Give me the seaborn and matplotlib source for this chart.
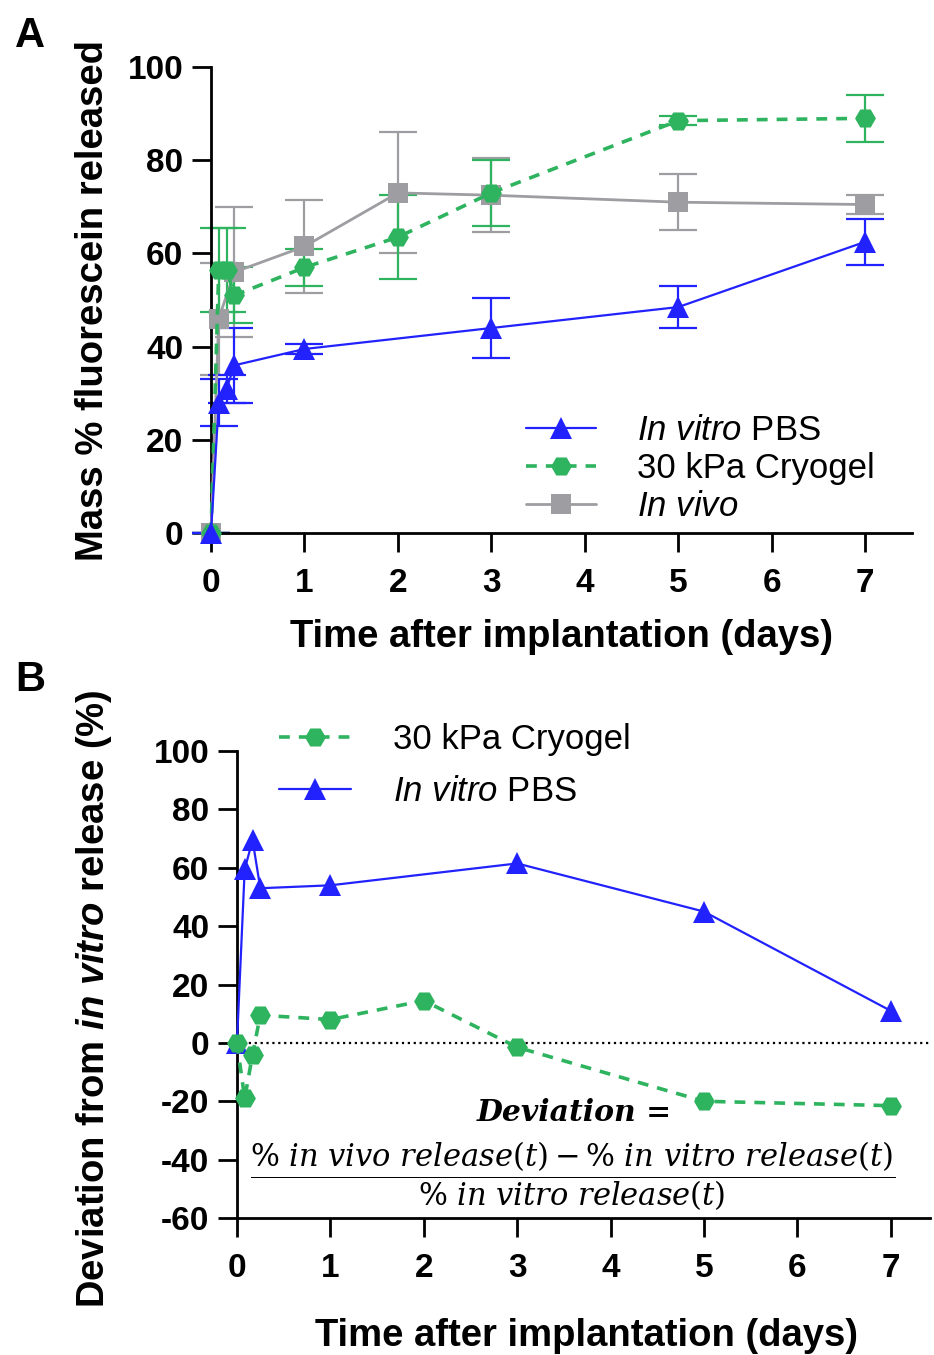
import numpy as np
import pandas as pd
import seaborn as sns
import matplotlib.pyplot as plt

# panel A: mass % fluorescein released (mean, sd)
pbs_t = [0, 0.083, 0.167, 0.25, 1, 3, 5, 7]
pbs_mean = [0, 28, 31, 36, 39.5, 44, 48.5, 62.5]
pbs_sd = [0, 5, 3, 8, 1, 6.5, 4.5, 5]

cryo_t = [0, 0.083, 0.167, 0.25, 1, 2, 3, 5, 7]
cryo_mean = [0, 56.5, 56.5, 51, 57, 63.5, 73, 88.5, 89]
cryo_sd = [0, 9, 9, 6, 4, 9, 7, 1, 5]

vivo_t = [0, 0.083, 0.25, 1, 2, 3, 5, 7]
vivo_mean = [0, 46, 56, 61.5, 73, 72.5, 71, 70.5]
vivo_sd = [0, 12, 14, 10, 13, 8, 6, 2]

# panel B: deviation from in vivo release (%)
dev_cryo_t = [0, 0.083, 0.167, 0.25, 1, 2, 3, 5, 7]
dev_cryo = [0, -19, -4, 9.5, 8, 14.5, -1.5, -20, -21.5]
dev_pbs_t = [0, 0.083, 0.167, 0.25, 1, 3, 5, 7]
dev_pbs = [0, 59.5, 69.5, 53, 54, 61.5, 45, 11]

xticks = [0, 1, 2, 3, 4, 5, 6, 7]
yticks_a = [0, 20, 40, 60, 80, 100]
yticks_b = [-60, -40, -20, 0, 20, 40, 60, 80, 100]

lbl_pbs = r"$\mathit{In\ vitro}$ PBS"
lbl_cryo = "30 kPa Cryogel"
lbl_vivo = r"$\mathit{In\ vivo}$"

BLUE = "#2222FF"
GREEN = "#2EB35F"
GRAY = "#9D9DA2"

sns.set_style("ticks")
plt.rcParams["font.family"] = ["Liberation Sans", "DejaVu Sans"]
plt.rcParams["mathtext.fontset"] = "custom"
plt.rcParams["mathtext.rm"] = "Liberation Sans"
plt.rcParams["mathtext.it"] = "Liberation Sans:italic"
plt.rcParams["mathtext.bf"] = "Liberation Sans:bold"
plt.rcParams["mathtext.bfit"] = "Liberation Sans:italic:bold"
plt.rcParams["axes.unicode_minus"] = False
plt.rcParams["text.color"] = "black"
plt.rcParams["axes.labelcolor"] = "black"
plt.rcParams["xtick.color"] = "black"
plt.rcParams["ytick.color"] = "black"
plt.rcParams["axes.edgecolor"] = "black"

fig = plt.figure(figsize=(9.34, 13.55), dpi=100)
axA = fig.add_axes([0.2259, 0.6066, 0.7505, 0.3439])
axB = fig.add_axes([0.2537, 0.1011, 0.7420, 0.3446])


def style_axis(ax):
    sns.despine(ax=ax)
    for s in ["left", "bottom"]:
        ax.spines[s].set_linewidth(2)
    ax.tick_params(axis="y", length=14, width=2, labelsize=24, pad=6)
    ax.tick_params(axis="x", length=14, width=2, labelsize=24, pad=11)
    for lab in ax.get_xticklabels() + ax.get_yticklabels():
        lab.set_fontweight("bold")


def series(ax, t, y, sd, color, marker, ls, label, ms, lw):
    if sd is not None:
        ax.errorbar(t, y, yerr=sd, fmt="none", ecolor=color, elinewidth=1.6,
                    capsize=14, capthick=1.6, clip_on=False, zorder=2)
    sns.lineplot(x=t, y=y, ax=ax, color=color, marker=marker, linestyle=ls,
                 markersize=ms, markeredgewidth=0, linewidth=lw, label=label,
                 clip_on=False, zorder=3)


# ---- panel A
series(axA, vivo_t, vivo_mean, vivo_sd, GRAY, "s", "-", lbl_vivo, 15, 2)
series(axA, cryo_t, cryo_mean, cryo_sd, GREEN, "H", (0, (3, 2.5)), lbl_cryo, 15, 2.6)
series(axA, pbs_t, pbs_mean, pbs_sd, BLUE, "^", "-", lbl_pbs, 16, 1.6)

axA.set_xlim(0, 7.5)
axA.set_ylim(0, 100)
axA.set_xticks(xticks)
axA.set_yticks(yticks_a)
style_axis(axA)
axA.set_xlabel("Time after implantation (days)", fontsize=27.5, fontweight="bold")
axA.set_ylabel("Mass % fluorescein released", fontsize=27.5, fontweight="bold")
axA.xaxis.set_label_coords(0.5, -0.185)
axA.yaxis.set_label_coords(-0.142, 0.5)

h, l = axA.get_legend_handles_labels()
order = [2, 1, 0]
axA.legend([h[i] for i in order], [l[i] for i in order], loc="upper left",
           bbox_to_anchor=(0.43, 0.285), frameon=False, fontsize=25,
           handlelength=2.0, handletextpad=1.2, labelspacing=0.14,
           borderaxespad=0)

# ---- panel B
axB.axhline(0, color="black", linestyle=":", linewidth=1.6, zorder=1)
series(axB, dev_pbs_t, dev_pbs, None, BLUE, "^", "-", lbl_pbs, 16, 1.6)
series(axB, dev_cryo_t, dev_cryo, None, GREEN, "H", (0, (3, 2.5)), lbl_cryo, 15, 2.6)

axB.set_xlim(0, 7.42)
axB.set_ylim(-60, 100)
axB.set_xticks(xticks)
axB.set_yticks(yticks_b)
style_axis(axB)
axB.set_xlabel("Time after implantation (days)", fontsize=27.5, fontweight="bold")
axB.set_ylabel(r"Deviation from $\mathbfit{in\ vitro}$ release (%)",
               fontsize=27.5, fontweight="bold")
axB.xaxis.set_label_coords(0.505, -0.215)
axB.yaxis.set_label_coords(-0.178, 0.47)

h, l = axB.get_legend_handles_labels()
order = [1, 0]
axB.legend([h[i] for i in order], [l[i] for i in order], loc="upper left",
           bbox_to_anchor=(0.04, 1.09), frameon=False, fontsize=25,
           handlelength=2.1, handletextpad=1.2, labelspacing=0.55,
           borderaxespad=0)

axB.text(0.486, 0.225, "Deviation =", transform=axB.transAxes, ha="center",
         va="center", fontsize=21.5, fontweight="bold", fontstyle="italic",
         family="DejaVu Serif")
axB.text(0.484, 0.09,
         r"$\dfrac{\%\ in\ vivo\ release(t) - \%\ in\ vitro\ release(t)}"
         r"{\%\ in\ vitro\ release(t)}$",
         transform=axB.transAxes, ha="center", va="center", fontsize=22,
         math_fontfamily="dejavuserif")

# panel letters
fig.text(0.016, 0.965, "A", fontsize=30, fontweight="bold")
fig.text(0.016, 0.49, "B", fontsize=30, fontweight="bold")

fig.savefig("out.png", dpi=100)
